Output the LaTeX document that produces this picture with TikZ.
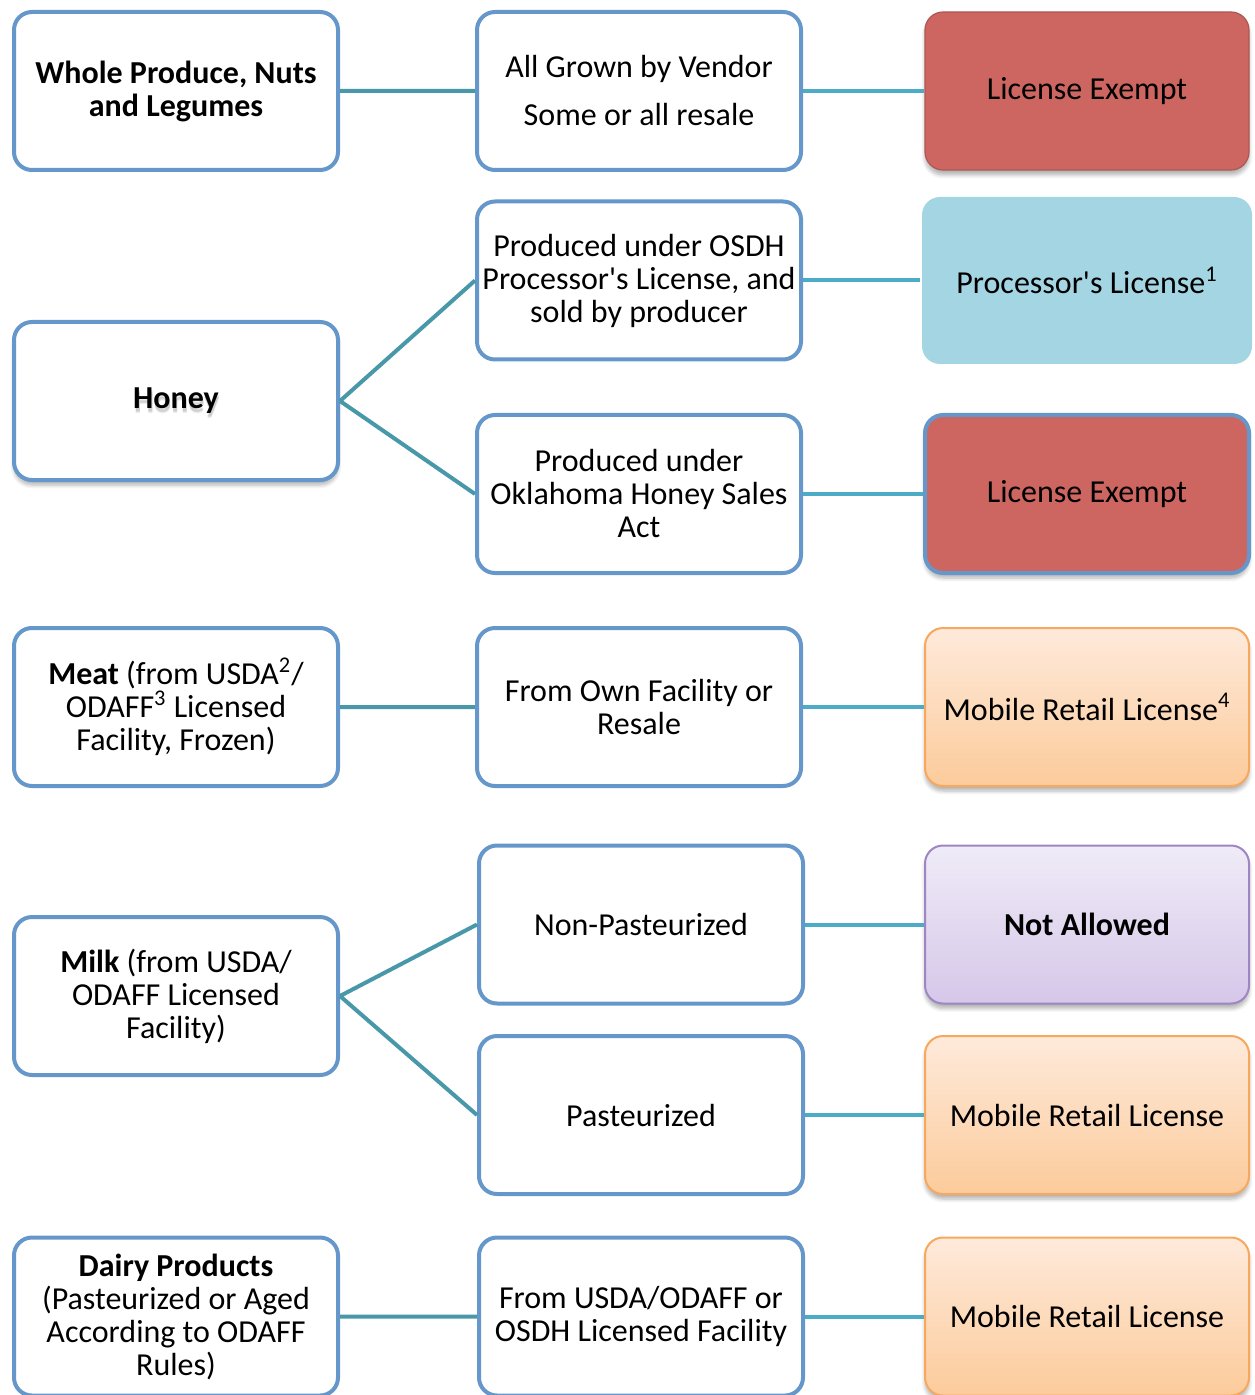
\documentclass[tikz,border=0pt]{standalone}
\usepackage{fontspec}
\setmainfont{Carlito}
\usetikzlibrary{shadows,shadows.blur,positioning}
\definecolor{boxline}{HTML}{6597CA}
\definecolor{linkdark}{HTML}{4898A9}
\definecolor{linklight}{HTML}{4CACC5}
\definecolor{exemptred}{HTML}{CD6660}
\definecolor{procblue}{HTML}{A3D5E3}
\definecolor{orangetop}{HTML}{FEEADB}
\definecolor{orangebot}{HTML}{FCCB9B}
\definecolor{orangeline}{HTML}{F7A85E}
\definecolor{purpletop}{HTML}{EFEBF7}
\definecolor{purplebot}{HTML}{D6C7E9}
\definecolor{purpleline}{HTML}{9D86C2}

\begin{document}
\begin{tikzpicture}[x=0.5pt,y=-0.5pt,
    every node/.style={font=\fontsize{16}{16.5}\selectfont, align=center},
    item/.style={rectangle, rounded corners=9pt, draw=boxline, line width=2pt,
      fill=white, minimum width=162pt, minimum height=79pt, inner sep=2pt},
    soft shadow/.style={blur shadow={shadow xshift=0pt, shadow yshift=-2.5pt,
      shadow blur steps=6, shadow opacity=30}},
    exempt/.style={item, draw=exemptred!85!black, line width=.6pt, fill=exemptred, soft shadow},
    processor/.style={item, draw=none, fill=procblue, minimum width=165pt, minimum height=83.5pt},
    mobile/.style={item, draw=orangeline, line width=1pt, top color=orangetop, bottom color=orangebot, soft shadow},
    banned/.style={item, draw=purpleline, line width=1pt, top color=purpletop, bottom color=purplebot, soft shadow},
    leftlink/.style={draw=linkdark, line width=2pt},
    rightlink/.style={draw=linklight, line width=2pt}]
  \useasboundingbox (0,0) rectangle (1254,1395);
  \clip (0,0) rectangle (1254,1395);

  % whole produce
  \node[item] (produce) at (176,91) {\textbf{Whole Produce, Nuts}\\\textbf{and Legumes}};
  \node[item] (grown) at (639,91) {All Grown by Vendor\\[7.5pt]Some or all resale};
  \node[exempt] (exemptA) at (1087,91) {License Exempt};

  % honey (soft text shadow behind the label)
  \node[item, soft shadow, path picture={
      \foreach \s in {1.2,1.8,2.4}
        \node[text=black!60, opacity=.12] at ([yshift=-\s pt, xshift=.4pt]path picture bounding box.center) {\textbf{Honey}};}]
    (honey) at (176,401) {\textbf{Honey}};
  \node[item] (osdh) at (639,280.5) {Produced under OSDH\\Processor\textquotesingle s License, and\\sold by producer};
  \node[item] (salesact) at (639,494) {Produced under\\Oklahoma Honey Sales\\Act};
  \node[processor] (proc) at (1087,280.5) {Processor\textquotesingle s License\textsuperscript{1}};
  \node[exempt, draw=boxline, line width=2pt] (exemptB) at (1087,494) {License Exempt};

  % meat
  \node[item] (meat) at (176,707) {\textbf{Meat} (from USDA\textsuperscript{2}/\\ODAFF\textsuperscript{3} Licensed\\Facility, Frozen)};
  \node[item] (ownfac) at (639,707) {From Own Facility or\\Resale};
  \node[mobile] (mobileA) at (1087,707) {Mobile Retail License\textsuperscript{4}};

  % milk
  \node[item] (milk) at (176,996) {\textbf{Milk} (from USDA/\\ODAFF Licensed\\Facility)};
  \node[item] (nonpast) at (641,924.5) {Non-Pasteurized};
  \node[item] (past) at (641,1115) {Pasteurized};
  \node[banned] (notallowed) at (1087,924.5) {\textbf{Not Allowed}};
  \node[mobile] (mobileB) at (1087,1115) {Mobile Retail License};

  % dairy
  \node[item] (dairy) at (176,1316.5) {\textbf{Dairy Products}\\(Pasteurized or Aged\\According to ODAFF\\Rules)};
  \node[item] (licfac) at (641,1316.5) {From USDA/ODAFF or\\OSDH Licensed Facility};
  \node[mobile] (mobileC) at (1087,1316.5) {Mobile Retail License};

  \path[leftlink] (produce) -- (grown)
    (honey.east) -- (osdh.west)
    (honey.east) -- (salesact.west)
    (meat) -- (ownfac)
    (milk.east) -- (nonpast.west)
    (milk.east) -- (past.west)
    (dairy) -- (licfac);
  \path[rightlink] (grown) -- (exemptA)
    (osdh) -- (proc)
    (salesact) -- (exemptB)
    (ownfac) -- (mobileA)
    (nonpast) -- (notallowed)
    (past) -- (mobileB)
    (licfac) -- (mobileC);
\end{tikzpicture}
\end{document}
